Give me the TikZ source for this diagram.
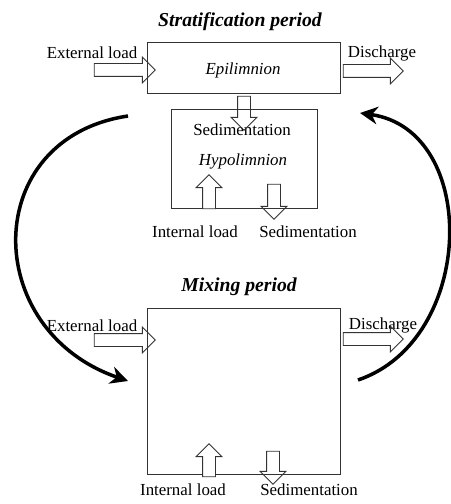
\documentclass[tikz,border=0pt]{standalone}
\usepackage{fontspec}
\setmainfont{Liberation Serif}
\usetikzlibrary{shapes.arrows,arrows.meta}
\tikzset{>={Stealth[length=4.4mm,width=4.4mm]}}
\colorlet{penColor}{black!80}
\tikzset{
  box/.style={draw=penColor, line width=0.6pt, inner sep=0pt},
  hollow/.style={single arrow, draw=penColor, line width=0.6pt,
    inner sep=0pt, inner ysep=0.15cm, single arrow head extend=0.16cm,
    single arrow tip angle=90, minimum height=#1},
  hollow/.default=1.5cm,
  lbl/.style={font=\fontsize{12}{14}\selectfont, inner sep=0pt},
  ttl/.style={font=\fontsize{14}{16}\selectfont\bfseries\itshape, inner sep=0pt},
  cycle arrow/.style={->, line width=2.5pt}
}

\begin{document}
\begin{tikzpicture}[x=0.025cm, y=-0.025cm]
  \useasboundingbox (0,0) rectangle (451,504);

  % stratification period: epilimnion over hypolimnion
  \node[ttl] (strat) at (240,22) {Stratification period};
  \node[box, minimum width=4.825cm, minimum height=1.275cm] (epi) at (243.5,67.5) {};
  \node[lbl, font=\fontsize{12}{14}\selectfont\itshape] (epiname) at (243,70) {Epilimnion};
  \node[box, minimum width=3.65cm, minimum height=2.475cm] (hypo) at (244,158.5) {};
  \node[lbl] (sedtop) at (242,130) {Sedimentation};
  \node[lbl, font=\fontsize{12}{14}\selectfont\itshape] (hyponame) at (243,161) {Hypolimnion};

  \node[lbl] (extA) at (92,53) {External load};
  \node[lbl] (disA) at (382,53) {Discharge};
  \node[lbl] (intA) at (195,232) {Internal load};
  \node[lbl] (sedA) at (308,232) {Sedimentation};

  \node[hollow=1.525cm] (inA) at (121.5,70) {};
  \node[hollow=1.5cm] (outA) at (370,71) {};
  \node[hollow=0.85cm, rotate=-90] (downA) at (244,110) {};
  \node[hollow=0.85cm, rotate=90, fill=white] (upA) at (209,195) {};
  \node[hollow=0.875cm, rotate=-90] (downB) at (274,198.5) {};

  % mixing period: one well mixed box
  \node[ttl] (mix) at (239,287) {Mixing period};
  \node[box, minimum width=4.825cm, minimum height=4.15cm] (mixbox) at (243.5,391) {};

  \node[lbl] (extB) at (92,326) {External load};
  \node[lbl] (disB) at (383,325) {Discharge};
  \node[lbl] (intB) at (183,490) {Internal load};
  \node[lbl] (sedB) at (309,490) {Sedimentation};

  \node[hollow=1.525cm] (inB) at (121.5,340) {};
  \node[hollow=1.5cm] (outB) at (370,339) {};
  \node[hollow=0.825cm, rotate=90, fill=white] (upB) at (209,463.5) {};
  \node[hollow=0.825cm, rotate=-90] (downC) at (273,464.5) {};

  % seasonal turnover
  \coordinate (l1) at (128,116);
  \coordinate (l2) at (128,381);
  \coordinate (r1) at (358,380);
  \coordinate (r2) at (360,113);
  \draw[cycle arrow] (l1) .. controls (-20,138) and (-20,330) .. (l2);
  \draw[cycle arrow] (r1) .. controls (476,340) and (480,130) .. (r2);
\end{tikzpicture}
\end{document}
